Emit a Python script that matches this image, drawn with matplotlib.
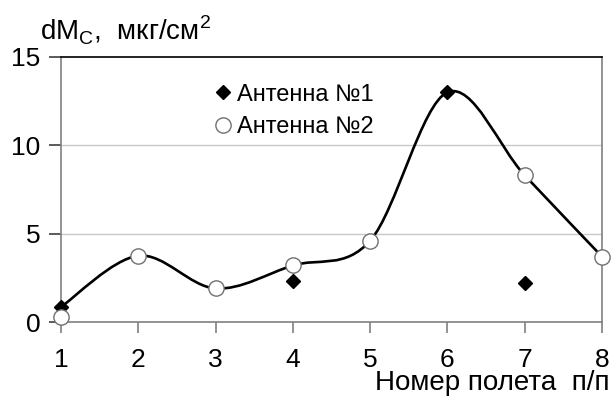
import matplotlib.pyplot as plt
from matplotlib.path import Path
from matplotlib.patches import PathPatch

plt.rcParams['font.family'] = ['Liberation Sans', 'DejaVu Sans']
plt.rcParams['mathtext.fontset'] = 'custom'
plt.rcParams['mathtext.rm'] = 'Liberation Sans'

# ----- Data -----
flights = [1, 2, 3, 4, 5, 6, 7, 8]
curve_y = [0.85, 3.75, 1.9, 3.2, 4.6, 13.0, 8.3, 3.7]

ant1_x = [1, 4, 6, 7]
ant1_y = [0.85, 2.3, 13.0, 2.2]

ant2_x = [1, 2, 3, 4, 5, 7, 8]
ant2_y = [0.3, 3.75, 1.9, 3.2, 4.6, 8.3, 3.7]

y_ticks = [0, 5, 10, 15]


def smooth_path(xs, ys):
    # Excel-style smoothed line (Bezier, Catmull-Rom tangents / 6)
    pts = list(zip(xs, ys))
    n = len(pts)
    verts = [pts[0]]
    codes = [Path.MOVETO]
    for i in range(n - 1):
        p0 = pts[max(i - 1, 0)]
        p1 = pts[i]
        p2 = pts[i + 1]
        p3 = pts[min(i + 2, n - 1)]
        c1 = (p1[0] + (p2[0] - p0[0]) / 6, p1[1] + (p2[1] - p0[1]) / 6)
        c2 = (p2[0] - (p3[0] - p1[0]) / 6, p2[1] - (p3[1] - p1[1]) / 6)
        verts += [c1, c2, p2]
        codes += [Path.CURVE4] * 3
    return Path(verts, codes)


fig = plt.figure(figsize=(6.11, 4.01), dpi=100)
ax = fig.add_axes([0.0998, 0.197, 0.8855, 0.661])

ax.add_patch(PathPatch(smooth_path(flights, curve_y), facecolor='none',
                       edgecolor='black', lw=1.9, zorder=3, clip_on=False))
ax.plot(ant1_x, ant1_y, ls='none', marker='D', ms=7.5, color='black',
        zorder=4, clip_on=False, label='Антенна №1')
ax.plot(ant2_x, ant2_y, ls='none', marker='o', ms=11, mfc='white',
        mec='#707070', mew=1, zorder=5, clip_on=False, label='Антенна №2')

ax.set_xlim(1, 8)
ax.set_ylim(0, 15)
ax.set_xticks(flights)
ax.set_yticks(y_ticks)
for y in (5, 10):
    ax.axhline(y, color='#c8c8c8', lw=1, zorder=1)

for s in ('left', 'bottom', 'right'):
    ax.spines[s].set_color('#808080')
    ax.spines[s].set_linewidth(1.2)
ax.spines['top'].set_color('black')
ax.spines['top'].set_linewidth(1.2)

ax.tick_params(axis='x', direction='out', length=8, width=1.2,
               color='#808080', labelsize=19, pad=11)
ax.tick_params(axis='y', direction='out', length=9, width=1.2,
               color='#404040', labelsize=19, pad=6)

fig.text(0.065, 0.925, r'dM$_\mathregular{C}$,  мкг/см$^\mathregular{2}$',
         fontsize=20, ha='left', va='center')
fig.text(0.998, 0.045, 'Номер полета  п/п', fontsize=20, ha='right',
         va='center')

ax.legend(loc='upper left', bbox_to_anchor=(0.33, 0.815),
          bbox_transform=fig.transFigure, frameon=False, fontsize=17,
          handletextpad=0.1, handlelength=1.0, labelspacing=0.45,
          borderaxespad=0)

fig.savefig('out.png', dpi=100, facecolor='white')
